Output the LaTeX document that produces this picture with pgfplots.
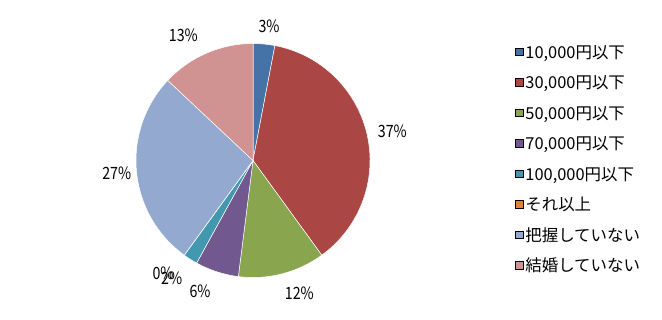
\documentclass[border=0pt]{standalone}
\usepackage{pgfplots}
\pgfplotsset{compat=1.18}
\usepackage{pgfplotstable}
\usepackage{graphicx}
\usepackage{fontspec}
\setmainfont{Noto Sans CJK JP}

\definecolor{c0}{HTML}{4572A7}
\definecolor{c1}{HTML}{AA4643}
\definecolor{c2}{HTML}{89A54E}
\definecolor{c3}{HTML}{71588F}
\definecolor{c4}{HTML}{4198AF}
\definecolor{c5}{HTML}{DB843D}
\definecolor{c6}{HTML}{93A9CF}
\definecolor{c7}{HTML}{D19392}

% share (%) of each category, clockwise from 12 o'clock
\pgfplotstableread{
idx value
0 3
1 37
2 12
3 6
4 2
5 0
6 27
7 13
}\piedata

\def\cum{0}
\pgfplotsforeachungrouped \i in {0,...,7}{%
  \pgfplotstablegetelem{\i}{value}\of\piedata
  \pgfmathsetmacro\s{90-3.6*\cum}%
  \pgfmathsetmacro\newcum{\cum+\pgfplotsretval}%
  \pgfmathsetmacro\e{90-3.6*\newcum}%
  \expandafter\xdef\csname sA\i\endcsname{\s}%
  \expandafter\xdef\csname eA\i\endcsname{\e}%
  \expandafter\xdef\csname vA\i\endcsname{\pgfplotsretval}%
  \xdef\cum{\newcum}%
}
\newcommand\lbl[1]{\scalebox{0.84}[1]{\fontsize{17}{17}\selectfont #1\%}}

\begin{document}
\begin{tikzpicture}
\begin{axis}[
  width=662bp, height=320bp, scale only axis,
  xmin=0, xmax=662, ymin=0, ymax=320,
  hide axis, clip=false,
  legend cell align=left,
  legend image code/.code={\fill[#1] (0bp,2.6bp) rectangle (7.5bp,10.1bp);},
  legend style={
    at={(axis cs:515,274)}, anchor=north west,
    draw=none, fill=none, inner sep=0pt, outer sep=0pt,
    font=\fontsize{16.5}{16.5}\selectfont,
    nodes={inner sep=0pt, outer sep=0pt, text height=12bp, text depth=3bp, anchor=base west},
    row sep=15.5bp,
    /tikz/every odd column/.append style={column sep=2.5bp},
  },
]
\path[draw=none] (rel axis cs:0,0) rectangle (rel axis cs:1,1);
\pgfplotsinvokeforeach{0,...,7}{%
  \fill[c#1, draw=white, line width=0.5pt]
    (axis cs:253,159.5) -- ++(\csname sA#1\endcsname:117bp)
    arc[start angle=\csname sA#1\endcsname, end angle=\csname eA#1\endcsname, radius=117bp] -- cycle;
}
\addlegendimage{fill=c0}\addlegendentry{10,000円以下}
\addlegendimage{fill=c1}\addlegendentry{30,000円以下}
\addlegendimage{fill=c2}\addlegendentry{50,000円以下}
\addlegendimage{fill=c3}\addlegendentry{70,000円以下}
\addlegendimage{fill=c4}\addlegendentry{100,000円以下}
\addlegendimage{fill=c5}\addlegendentry{それ以上}
\addlegendimage{fill=c6}\addlegendentry{把握していない}
\addlegendimage{fill=c7}\addlegendentry{結婚していない}

\begin{scope}[every node/.style={inner sep=0pt}]
\node at (axis cs:269,294) {\lbl{\csname vA0\endcsname}};
\node at (axis cs:392.3,188.3) {\lbl{\csname vA1\endcsname}};
\node at (axis cs:299.3,26.7) {\lbl{\csname vA2\endcsname}};
\node at (axis cs:200,28.3) {\lbl{\csname vA3\endcsname}};
\node at (axis cs:171.7,41.7) {\lbl{\csname vA4\endcsname}};
\node at (axis cs:163,46.7) {\lbl{\csname vA5\endcsname}};
\node at (axis cs:116.7,146.7) {\lbl{\csname vA6\endcsname}};
\node at (axis cs:183.3,285) {\lbl{\csname vA7\endcsname}};
\end{scope}
\end{axis}
\end{tikzpicture}
\end{document}
